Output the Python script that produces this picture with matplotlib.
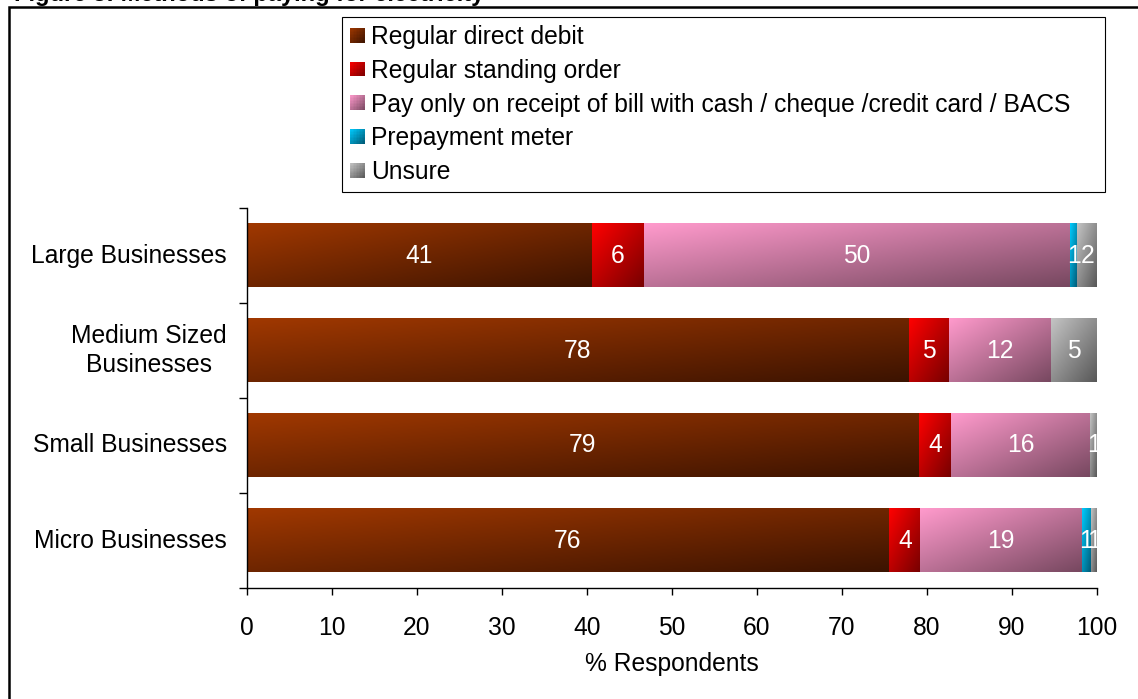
import numpy as np
import matplotlib
matplotlib.use("Agg")
import matplotlib.pyplot as plt
from matplotlib.colors import to_rgb
from matplotlib.patches import Rectangle
from matplotlib.legend_handler import HandlerBase

# ---- data -------------------------------------------------------------
categories = ["Large Businesses", "Medium Sized\nBusinesses",
              "Small Businesses", "Micro Businesses"]
series_names = ["Regular direct debit",
                "Regular standing order",
                "Pay only on receipt of bill with cash / cheque /credit card / BACS",
                "Prepayment meter",
                "Unsure"]
direct_debit = [40.6, 77.9, 79.1, 75.6]
standing_order = [6.1, 4.7, 3.7, 3.6]
pay_on_receipt = [50.1, 12.0, 16.4, 19.0]
prepayment_meter = [0.9, 0.0, 0.0, 1.1]
unsure = [2.3, 5.4, 0.8, 0.7]
x_ticks = [0, 10, 20, 30, 40, 50, 60, 70, 80, 90, 100]
title_text = "Figure 3: Methods of paying for electricity"
x_label = "% Respondents"

# ---- style ------------------------------------------------------------
plt.rcParams["font.family"] = ["Liberation Sans", "DejaVu Sans"]
FS = 17.7
W, H = 1138, 699

# light (top-left) -> dark (bottom-right) fill for each series
shades = [("#a03800", "#3c1300"),
          ("#ff0000", "#780000"),
          ("#ff9acc", "#774860"),
          ("#00ccff", "#005570"),
          ("#c4c4c4", "#585858")]


def corner_gradient(c0, c1, ny=40, nx=80):
    u = np.linspace(0, 1, nx)[None, :]
    v = np.linspace(0, 1, ny)[:, None]
    t = (u + v) / 2.0
    a, b = np.array(to_rgb(c0)), np.array(to_rgb(c1))
    return a[None, None, :] * (1 - t[..., None]) + b[None, None, :] * t[..., None]


class GradientSwatch:
    def __init__(self, c0, c1):
        self.c0, self.c1 = c0, c1


class HandlerGradientSwatch(HandlerBase):
    def create_artists(self, legend, orig_handle, xdescent, ydescent,
                       width, height, fontsize, trans):
        n = 10
        side = min(width, height)
        x0 = -xdescent + (width - side) / 2
        y0 = -ydescent + (height - side) / 2
        a, b = np.array(to_rgb(orig_handle.c0)), np.array(to_rgb(orig_handle.c1))
        cell = side / n
        artists = []
        for i in range(n):          # columns, left -> right
            for j in range(n):      # rows, top -> bottom
                t = ((i + 0.5) / n + (j + 0.5) / n) / 2
                col = a * (1 - t) + b * t
                r = Rectangle((x0 + i * cell, y0 + side - (j + 1) * cell),
                              cell * 1.02, cell * 1.02, facecolor=col,
                              edgecolor="none", linewidth=0,
                              antialiased=False, transform=trans)
                artists.append(r)
        return artists


fig = plt.figure(figsize=(W / 100, H / 100), dpi=100)
ax = fig.add_axes([246.5 / W, 1 - 588 / H, (1097 - 246.5) / W, (588 - 208) / H])

series = [direct_debit, standing_order, pay_on_receipt, prepayment_meter, unsure]
ypos = np.arange(len(categories))
left = np.zeros(len(categories))
for name, vals, (c0, c1) in zip(series_names, series, shades):
    vals = np.array(vals, dtype=float)
    bars = ax.barh(ypos, vals, left=left, height=0.67, color=c0,
                   edgecolor="none", zorder=1)
    grad = corner_gradient(c0, c1)
    for rect, v in zip(bars, vals):
        if v <= 0:
            continue
        x0, y0 = rect.get_x(), rect.get_y()
        w, h = rect.get_width(), rect.get_height()
        ax.imshow(grad, extent=(x0, x0 + w, y0 + h, y0), origin="upper",
                  aspect="auto", interpolation="bilinear", zorder=2)
        ax.text(x0 + w / 2, y0 + h / 2, f"{v:.0f}", ha="center", va="center",
                color="white", fontsize=FS, zorder=3)
    left += vals

ax.set_xlim(0, 100)
ax.set_ylim(len(categories) - 0.5, -0.5)
ax.set_xticks(x_ticks)
ax.set_yticks(ypos)
ax.set_yticklabels(categories, multialignment="center", linespacing=1.25,
                   va="center")
ax.set_yticks(np.arange(-0.5, len(categories), 1.0), minor=True)
ax.tick_params(axis="y", which="major", length=0, pad=14, labelsize=FS)
ax.tick_params(axis="y", which="minor", length=6, width=1, direction="out")
ax.tick_params(axis="x", which="major", length=5, width=1, pad=15.5, labelsize=FS)
ax.set_xlabel(x_label, fontsize=FS, labelpad=8)
for s in ("top", "right"):
    ax.spines[s].set_visible(False)
for s in ("left", "bottom"):
    ax.spines[s].set_linewidth(1)

# legend
handles = [GradientSwatch(c0, c1) for c0, c1 in shades]
leg = fig.legend(handles, series_names,
                 handler_map={GradientSwatch: HandlerGradientSwatch()},
                 loc="upper left",
                 bbox_to_anchor=(342 / W, 1 - 186 / H, (1105 - 342) / W, (186 - 17) / H),
                 mode="expand", borderaxespad=0, frameon=True, fancybox=False,
                 edgecolor="black", framealpha=1, fontsize=FS,
                 handlelength=0.6, handleheight=0.6, handletextpad=0.26,
                 labelspacing=0.40, borderpad=0.32)
leg.get_frame().set_linewidth(0.8)

# outer frame and caption
fig.add_artist(Rectangle((8.5 / W, -0.05), 1.2, 1.05 - 7 / H,
                         transform=fig.transFigure, fill=False,
                         linewidth=1.8, edgecolor="black"))
fig.text(14 / W, 1 - 1 / H, title_text, fontsize=17, fontweight="bold",
         ha="left", va="baseline")

fig.savefig("out.png", dpi=100)
